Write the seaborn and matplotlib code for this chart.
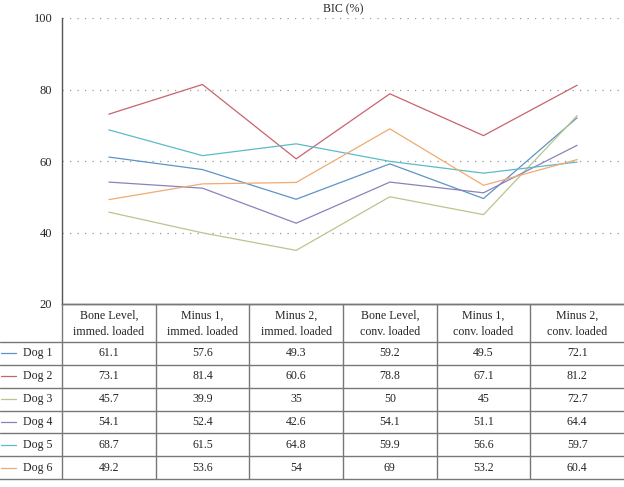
import matplotlib
matplotlib.use("Agg")
import matplotlib.pyplot as plt
import seaborn as sns
import pandas as pd
from matplotlib.lines import Line2D

categories = ["Bone Level,\nimmed. loaded", "Minus 1,\nimmed. loaded", "Minus 2,\nimmed. loaded",
              "Bone Level,\nconv. loaded", "Minus 1,\nconv. loaded", "Minus 2,\nconv. loaded"]
dogs = ["Dog 1", "Dog 2", "Dog 3", "Dog 4", "Dog 5", "Dog 6"]
dog1 = [61.1, 57.6, 49.3, 59.2, 49.5, 72.1]
dog2 = [73.1, 81.4, 60.6, 78.8, 67.1, 81.2]
dog3 = [45.7, 39.9, 35, 50, 45, 72.7]
dog4 = [54.1, 52.4, 42.6, 54.1, 51.1, 64.4]
dog5 = [68.7, 61.5, 64.8, 59.9, 56.6, 59.7]
dog6 = [49.2, 53.6, 54, 69, 53.2, 60.4]
series = [dog1, dog2, dog3, dog4, dog5, dog6]
colors = ["#5f93c8", "#c8636c", "#b7c68c", "#8b82ba", "#5cbac9", "#f0ab70"]
yticks = [20, 40, 60, 80, 100]

sns.set_style("white")
plt.rcParams["font.family"] = ["Liberation Serif", "DejaVu Serif"]
FS = 8.6

rows = []
for d, vals in zip(dogs, series):
    for i, v in enumerate(vals):
        rows.append({"dog": d, "x": i, "value": v})
df = pd.DataFrame(rows)

W, H = 624, 487
fig = plt.figure(figsize=(W / 100, H / 100), dpi=100)
left, right, top, bottom = 62, 624, 18, 304
ax = fig.add_axes([left / W, 1 - bottom / H, (right - left) / W, (bottom - top) / H])

sns.lineplot(data=df, x="x", y="value", hue="dog", palette=colors, ax=ax,
             linewidth=0.9, legend=False)
ax.set_xlim(-0.5, 5.5)
ax.set_ylim(20, 100)
ax.set_yticks(yticks)
ax.set_yticklabels([str(t) for t in yticks], fontsize=FS + 0.4)
ax.set_xticks([])
ax.set_xlabel("")
ax.set_ylabel("")
for y in yticks[1:]:
    ax.axhline(y, color="#999999", linestyle=(0, (1, 5)), linewidth=0.9, zorder=0)
for s in ["top", "right"]:
    ax.spines[s].set_visible(False)
for s in ["left", "bottom"]:
    ax.spines[s].set_color("#555555")
    ax.spines[s].set_linewidth(1.0)
ax.tick_params(axis="y", length=4, width=0.8, color="#555555", pad=3)
ax.set_title("BIC (%)", fontsize=FS, pad=4)

# Table below
def fx(px):
    return px / W

def fy(py):
    return 1 - py / H

header_top, header_bot = 304, 342
row_h = (479 - header_bot) / 6
col_w = (right - left) / 6
line_kw = dict(color="#777777", linewidth=1.0)

fig.add_artist(Line2D([fx(left), fx(W)], [fy(header_top)] * 2, **line_kw))
for r in range(7):
    yy = header_bot + r * row_h
    fig.add_artist(Line2D([fx(0), fx(W)], [fy(yy)] * 2, **line_kw))
for c in range(6):
    xx = left + c * col_w
    fig.add_artist(Line2D([fx(xx)] * 2, [fy(header_top), fy(479)], **line_kw))

for c, cat in enumerate(categories):
    xc = left + (c + 0.5) * col_w
    fig.text(fx(xc), fy((header_top + header_bot) / 2 + 0.5), cat, ha="center", va="center",
             fontsize=FS, linespacing=1.45)
    for r, vals in enumerate(series):
        yc = header_bot + (r + 0.5) * row_h
        fig.text(fx(xc), fy(yc), f"{vals[c]:g}", ha="center", va="center", fontsize=FS)

for r, (d, col) in enumerate(zip(dogs, colors)):
    yc = header_bot + (r + 0.5) * row_h
    fig.add_artist(Line2D([fx(1), fx(16)], [fy(yc)] * 2, color=col, linewidth=0.9))
    fig.text(fx(23), fy(yc), d, ha="left", va="center", fontsize=FS)

fig.savefig("out.png", dpi=100)
